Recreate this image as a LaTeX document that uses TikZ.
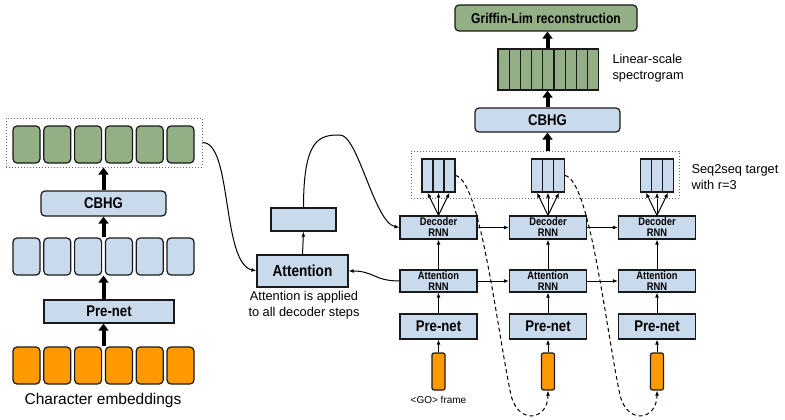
\documentclass[tikz,border=0pt]{standalone}
\usepackage{fontspec}
\setmainfont{Liberation Sans}
\newfontfamily\narrowsf[FakeStretch=0.85]{Liberation Sans}
\usetikzlibrary{arrows.meta}
\definecolor{lblue}{RGB}{201,218,236}
\definecolor{sage}{RGB}{147,175,134}
\definecolor{amber}{RGB}{255,153,0}

\begin{document}
\begin{tikzpicture}[x=1pt,y=-1pt,
  box/.style={draw=black!90,line width=1.2pt,fill=lblue,inner sep=0pt,font=\narrowsf\bfseries\fontsize{15.5}{17}\selectfont},
  cell/.style={draw=black!90,line width=1.2pt,rounded corners=4pt,minimum width=27pt,minimum height=37pt,inner sep=0pt},
  rnn/.style={box,minimum width=77pt,align=center,font=\narrowsf\bfseries\fontsize{11}{11}\selectfont},
  stripe/.style={draw=black!90,line width=1.2pt,fill=lblue,minimum width=11pt,minimum height=33pt,inner sep=0pt},
  frame/.style={draw=black!90,line width=1.2pt,fill=amber,rounded corners=2pt,minimum width=13pt,minimum height=37pt,inner sep=0pt},
  dotbox/.style={draw=black!60,dotted,line width=1pt,inner sep=0pt},
  fat/.style={line width=4pt,-{Triangle[length=7pt,width=10pt]}},
  thin/.style={line width=1pt,-{Latex[length=5pt,width=4pt]}},
  lbl/.style={font=\fontsize{12.8}{16}\selectfont,align=left}]
\useasboundingbox (0,0) rectangle (785,420);

% encoder
\foreach \i in {1,...,6}{
  \node[cell,fill=amber] (o\i) at ({-4.3+30.8*\i},365.5) {};
  \node[cell,fill=lblue] (b\i) at ({-4.3+30.8*\i},256.5) {};
  \node[cell,fill=sage] (g\i) at ({-4.3+30.8*\i},144.5) {};
}
\node[dotbox,minimum width=196pt,minimum height=49pt] (enc) at (104,142.5) {};
\node[box,rounded corners=4pt,minimum width=125pt,minimum height=25pt] (cbhgL) at (103.5,203.5) {CBHG};
\node[box,minimum width=130pt,minimum height=23pt] (preL) at (109,311.5) {Pre-net};
\node[lbl,font=\fontsize{15.5}{18}\selectfont] (chars) at (103,400) {Character embeddings};
\draw[fat] (cbhgL.center |- o1.north) -- (cbhgL.center |- preL.south);
\draw[fat] (cbhgL.center |- preL.north) -- (cbhgL.center |- b1.south);
\draw[fat] (cbhgL.center |- b1.north) -- (cbhgL.south);
\draw[fat] (cbhgL.north) -- (cbhgL.center |- enc.south);

% attention
\node[box,minimum width=91pt,minimum height=32pt,font=\narrowsf\bfseries\fontsize{16}{17}\selectfont] (attn) at (302.5,271) {Attention};
\node[box,minimum width=65pt,minimum height=23pt] (ctx) at (303.5,219.5) {};
\node[lbl,align=center] (note) at (304,305) {Attention is applied\\to all decoder steps};
\draw[thin] (attn.north) -- (ctx.south);

% decoder steps
\foreach \c/\x in {1/438.5,2/548,3/657}{
  \node[rnn,minimum height=23pt] (dec\c) at (\x,227.5) {Decoder\\RNN};
  \node[rnn,minimum height=22pt] (arnn\c) at (\x,281) {Attention\\RNN};
  \node[box,minimum width=77pt,minimum height=25pt] (pre\c) at (\x,326.5) {Pre-net};
  \node[frame] (f\c) at (\x,371.5) {};
  \foreach \s in {1,2,3}{
    \node[stripe] (t\c\s) at ({\x+11*(\s-2)},175.5) {};
    \draw[thin] (dec\c.north) -- (t\c\s.south);
  }
  \draw[thin] (f\c.north) -- (pre\c.south);
  \draw[thin] (pre\c.north) -- (arnn\c.south);
  \draw[thin] (arnn\c.north) -- (dec\c.south);
}
\draw[thin] (dec1) -- (dec2);
\draw[thin] (dec2) -- (dec3);
\draw[thin] (arnn1) -- (arnn2);
\draw[thin] (arnn2) -- (arnn3);
\node[font=\fontsize{10}{12}\selectfont] (golbl) at (438.5,400) {<GO> frame};
\coordinate (low1) at (511,395);
\coordinate (low2) at (620,395);
\draw[thin,dash pattern=on 4pt off 3pt] (t13.east) .. controls +(25,5) and +(-14,-65) .. (low1) .. controls +(7,30) and +(0,30) .. (f2.south);
\draw[thin,dash pattern=on 4pt off 3pt] (t23.east) .. controls +(25,5) and +(-14,-65) .. (low2) .. controls +(7,30) and +(0,30) .. (f3.south);

% links into attention
\coordinate (peak) at (340,135);
\draw[thin] (enc.east) .. controls +(30,0) and +(-35,-8) .. (attn.west);
\draw[thin] (ctx.north) .. controls +(0,-70) and +(-20,0) .. (peak) .. controls +(18,0) and +(-25,-5) .. (dec1.west);
\draw[thin] (arnn1.west) .. controls +(-25,0) and +(25,0) .. (attn.east);

% post-processing
\node[dotbox,minimum width=268pt,minimum height=47pt] (tgt) at (545,174.5) {};
\node[box,rounded corners=4pt,minimum width=145pt,minimum height=24pt] (cbhgT) at (547.5,120) {CBHG};
\foreach \k in {1,...,9}
  \node[stripe,fill=sage,minimum width=11.2pt,minimum height=41pt] (s\k) at ({492.4+11.2*\k},69.5) {};
\node[box,fill=sage,rounded corners=4pt,minimum width=182pt,minimum height=26pt,font=\narrowsf\bfseries\fontsize{14.2}{16}\selectfont] (gl) at (546,18) {Griffin-Lim reconstruction};
\draw[fat] (cbhgT.center |- tgt.north) -- (cbhgT.south);
\draw[fat] (cbhgT.north) -- (cbhgT.center |- s5.south);
\draw[fat] (cbhgT.center |- s5.north) -- (cbhgT.center |- gl.south);
\node[lbl,anchor=west] (linlbl) at (609,68) {Linear-scale\\spectrogram};
\node[lbl,anchor=west] (seqlbl) at (688,177.5) {Seq2seq target\\with r=3};
\end{tikzpicture}
\end{document}
